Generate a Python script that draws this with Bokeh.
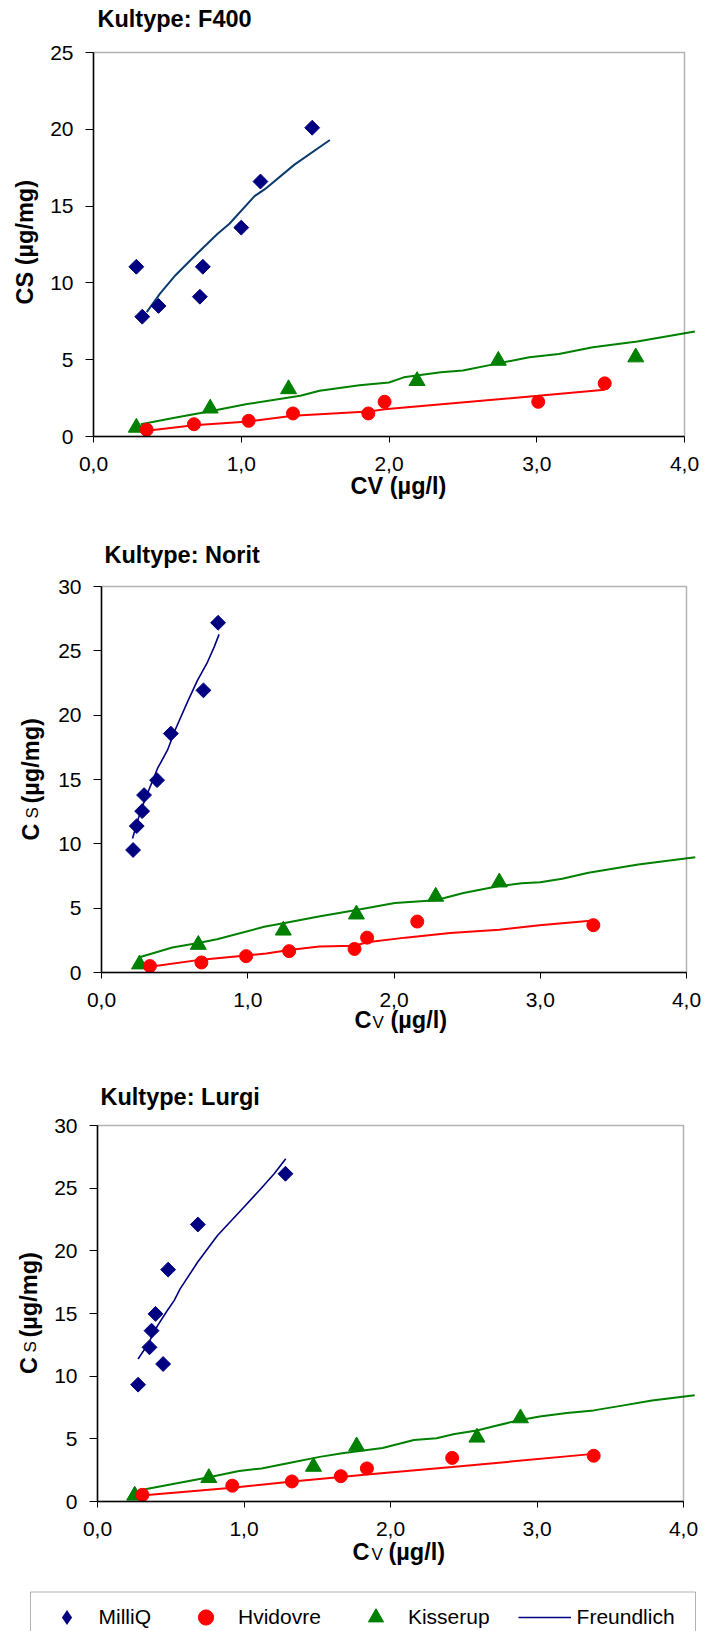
import math
from bokeh.plotting import figure
from bokeh.models import (Range1d, FixedTicker, CustomJSTickFormatter, Label,
                          Legend, LegendItem, BoxAnnotation)
from bokeh.layouts import column
from bokeh.embed import file_html
from bokeh.resources import INLINE

# ---------------- data ----------------
x_ticks = [0, 1, 2, 3, 4]
f400_y_ticks = [0, 5, 10, 15, 20, 25]
norit_y_ticks = [0, 5, 10, 15, 20, 25, 30]
lurgi_y_ticks = [0, 5, 10, 15, 20, 25, 30]

series_names = ["MilliQ", "Hvidovre", "Kisserup", "Freundlich"]
panel_titles = ["Kultype: F400", "Kultype: Norit", "Kultype: Lurgi"]

# F400
f400_milliq_cv = [0.29, 0.33, 0.44, 0.72, 0.74, 1.00, 1.13, 1.48]
f400_milliq_cs = [11.05, 7.8, 8.5, 9.1, 11.05, 13.6, 16.6, 20.1]
f400_milliq_fit_cv = [0.36, 0.45, 0.555, 0.70, 0.84, 0.92, 1.09, 1.16, 1.36, 1.60]
f400_milliq_fit_cs = [8.1, 9.3, 10.5, 11.9, 13.2, 13.85, 15.65, 16.1, 17.7, 19.3]
f400_hvid_cv = [0.36, 0.68, 1.05, 1.35, 1.86, 1.97, 3.01, 3.46]
f400_hvid_cs = [0.44, 0.80, 1.02, 1.50, 1.50, 2.26, 2.26, 3.46]
f400_hvid_fit_cv = [0.36, 0.68, 1.05, 1.35, 1.86, 1.97, 3.01, 3.46]
f400_hvid_fit_cs = [0.37, 0.74, 0.98, 1.35, 1.62, 1.78, 2.65, 3.05]
f400_kiss_cv = [0.29, 0.79, 1.32, 2.19, 2.74, 3.67]
f400_kiss_cs = [0.58, 1.83, 3.09, 3.62, 4.94, 5.16]
f400_kiss_fit_cv = [0.32, 0.54, 0.79, 1.04, 1.40, 1.53, 1.80, 2.00, 2.10, 2.35,
                    2.50, 2.74, 2.95, 3.15, 3.38, 3.68, 4.07]
f400_kiss_fit_cs = [0.80, 1.20, 1.65, 2.11, 2.65, 2.98, 3.33, 3.52, 3.85, 4.18,
                    4.30, 4.76, 5.16, 5.37, 5.81, 6.18, 6.83]

# Norit
norit_milliq_cv = [0.216, 0.241, 0.278, 0.291, 0.38, 0.474, 0.697, 0.797]
norit_milliq_cs = [9.52, 11.38, 12.54, 13.79, 14.95, 18.57, 21.93, 27.18]
norit_milliq_fit_cv = [0.212, 0.269, 0.325, 0.383, 0.451, 0.508, 0.588, 0.656, 0.725, 0.77, 0.804]
norit_milliq_fit_cs = [10.42, 12.62, 14.22, 15.86, 17.28, 18.96, 21.03, 22.71, 24.13, 25.29, 26.28]
norit_hvid_cv = [0.331, 0.683, 0.989, 1.283, 1.73, 1.816, 2.159, 3.363]
norit_hvid_cs = [0.50, 0.78, 1.27, 1.66, 1.83, 2.71, 3.96, 3.68]
norit_hvid_fit_cv = [0.331, 0.683, 0.989, 1.127, 1.283, 1.49, 1.73, 1.816, 2.077, 2.383, 2.72, 2.995, 3.363]
norit_hvid_fit_cs = [0.44, 1.0, 1.33, 1.47, 1.75, 2.02, 2.08, 2.35, 2.71, 3.07, 3.32, 3.68, 4.04]
norit_kiss_cv = [0.26, 0.662, 1.243, 1.743, 2.285, 2.72]
norit_kiss_cs = [0.64, 2.16, 3.27, 4.52, 5.90, 7.01]
norit_kiss_fit_cv = [0.26, 0.484, 0.662, 0.79, 1.112, 1.243, 1.495, 1.743, 2.006, 2.285,
                     2.475, 2.72, 2.873, 3.0, 3.15, 3.33, 3.67, 4.06]
norit_kiss_fit_cs = [1.19, 1.94, 2.30, 2.58, 3.55, 3.82, 4.38, 4.85, 5.40, 5.62,
                     6.18, 6.73, 6.93, 7.01, 7.29, 7.76, 8.39, 8.95]

# Lurgi
lurgi_milliq_cv = [0.277, 0.355, 0.369, 0.396, 0.448, 0.482, 0.685, 1.283]
lurgi_milliq_cs = [9.32, 12.3, 13.63, 14.97, 10.97, 18.5, 22.1, 26.15]
lurgi_milliq_fit_cv = [0.277, 0.345, 0.41, 0.473, 0.523, 0.564, 0.683, 0.819, 0.978, 1.115, 1.206, 1.285]
lurgi_milliq_fit_cs = [11.37, 12.57, 14.03, 15.18, 16.03, 16.96, 19.09, 21.22, 23.22, 24.95, 26.15, 27.35]
lurgi_hvid_cv = [0.307, 0.92, 1.327, 1.661, 1.839, 2.421, 3.387]
lurgi_hvid_cs = [0.53, 1.26, 1.60, 2.02, 2.64, 3.48, 3.65]
lurgi_hvid_fit_cv = [0.28, 0.92, 1.33, 1.66, 1.84, 2.42, 3.387]
lurgi_hvid_fit_cs = [0.45, 1.10, 1.60, 1.95, 2.15, 2.75, 3.80]
lurgi_kiss_cv = [0.254, 0.76, 1.474, 1.769, 2.59, 2.887]
lurgi_kiss_cs = [0.48, 1.88, 2.78, 4.41, 5.11, 6.65]
lurgi_kiss_fit_cv = [0.28, 0.76, 0.966, 1.119, 1.333, 1.517, 1.67, 1.946, 2.16, 2.314,
                     2.437, 2.59, 2.713, 2.887, 3.019, 3.203, 3.387, 3.571, 3.785, 4.076]
lurgi_kiss_fit_cs = [0.88, 1.94, 2.44, 2.64, 3.14, 3.56, 3.85, 4.27, 4.91, 5.05,
                     5.39, 5.67, 6.03, 6.51, 6.79, 7.07, 7.27, 7.63, 8.05, 8.48]

# ---------------- styling ----------------
FONT = "Liberation Sans"
NAVY = "#000080"
NAVY1 = "#0A3A6E"
RED = "#FF0000"
GREEN = "#008000"
BIG = "23.5px"
SUB = "17px"
TICK = "21px"
W = 704


class Geom:
    """Pixel placement of the data box inside a full-canvas frame."""
    def __init__(self, H, fl, fr, ft, fb, ymax):
        self.H, self.fl, self.fr, self.ft, self.fb, self.ymax = H, fl, fr, ft, fb, ymax
        self.sx = (fr - fl) / 4.0
        self.sy = (fb - ft) / ymax

    def xr(self):
        return Range1d(-self.fl / self.sx, 4.0 + (W - self.fr) / self.sx)

    def yr(self):
        return Range1d(-(self.H - self.fb) / self.sy, self.ymax + self.ft / self.sy)

    def to_data(self, px, py):
        return (px - self.fl) / self.sx, (self.fb - py) / self.sy


def make_panel(g, yticks):
    p = figure(width=W, height=g.H, x_range=g.xr(), y_range=g.yr(),
               output_backend="svg", toolbar_location=None, min_border=0)
    p.grid.visible = False
    p.outline_line_color = None
    p.background_fill_color = "white"
    p.border_fill_color = "white"

    p.xaxis.ticker = FixedTicker(ticks=x_ticks)
    p.xaxis.formatter = CustomJSTickFormatter(code="return tick.toFixed(1).replace('.', ',')")
    p.xaxis.fixed_location = 0
    p.xaxis.bounds = (0, 4)
    p.yaxis.ticker = FixedTicker(ticks=yticks)
    p.yaxis.formatter = CustomJSTickFormatter(code="return tick.toFixed(0)")
    p.yaxis.fixed_location = 0
    p.yaxis.bounds = (0, g.ymax)
    for ax in (p.xaxis[0], p.yaxis[0]):
        ax.axis_line_color = "black"
        ax.axis_line_width = 1.5
        ax.major_tick_line_color = "black"
        ax.major_tick_line_width = 1
        ax.major_tick_in = 0
        ax.minor_tick_in = 0
        ax.minor_tick_out = 0
        ax.major_label_text_font = FONT
        ax.major_label_text_font_size = TICK
        ax.major_label_text_color = "black"
    p.xaxis.major_tick_out = 6
    p.xaxis.major_label_standoff = 14
    p.yaxis.major_tick_out = 8
    p.yaxis.major_label_standoff = 12
    # the plot-area frame (top and right sides)
    p.add_layout(BoxAnnotation(left=0, right=4, bottom=0, top=g.ymax,
                               fill_alpha=0, line_color="black", line_width=1.5))
    return p


def add_text(p, g, px, py, text, size=BIG, bold=True, angle=0.0,
             align="left", baseline="alphabetic"):
    x, y = g.to_data(px, py)
    p.add_layout(Label(x=x, y=y, text=text, angle=angle, angle_units="rad",
                       text_align=align, text_baseline=baseline,
                       text_font=FONT, text_font_size=size,
                       text_font_style="bold" if bold else "normal",
                       text_color="black"))


def draw_series(p, mq, hv, ks, navy_color, navy_width):
    (mcv, mcs, mfcv, mfcs) = mq
    (hcv, hcs, hfcv, hfcs) = hv
    (kcv, kcs, kfcv, kfcs) = ks
    p.line(kfcv, kfcs, color=GREEN, line_width=2)
    p.line(hfcv, hfcs, color=RED, line_width=2)
    lm = p.line(mfcv, mfcs, color=navy_color, line_width=navy_width)
    p.scatter(mcv, mcs, marker="square", angle=math.pi / 4, size=10.5, color=NAVY)
    sk = p.scatter(kcv, kcs, marker="triangle", size=16, color=GREEN)
    sh = p.scatter(hcv, hcs, marker="circle", size=13, color=RED)
    # legend-only stand-in for the diamond (zero size in the plot itself)
    sm = p.scatter(mcv, mcs, marker="diamond", size=0, fill_color=NAVY, line_color=NAVY, line_alpha=0)
    return sm, sh, sk, lm


# ---------------- panel 1: F400 ----------------
g1 = Geom(520, 93, 684, 52, 436, 25)
p1 = make_panel(g1, f400_y_ticks)
draw_series(p1,
            (f400_milliq_cv, f400_milliq_cs, f400_milliq_fit_cv, f400_milliq_fit_cs),
            (f400_hvid_cv, f400_hvid_cs, f400_hvid_fit_cv, f400_hvid_fit_cs),
            (f400_kiss_cv, f400_kiss_cs, f400_kiss_fit_cv, f400_kiss_fit_cs),
            NAVY1, 2)
add_text(p1, g1, 97, 18.5, panel_titles[0])
add_text(p1, g1, 398, 485, "CV (µg/l)", align="center")
add_text(p1, g1, 24.5, 241.7, "CS (µg/mg)", angle=math.pi / 2, align="center")

# ---------------- panel 2: Norit (page offset 520) ----------------
o2 = 520
g2 = Geom(540, 101, 686, 586 - o2, 972 - o2, 30)
p2 = make_panel(g2, norit_y_ticks)
draw_series(p2,
            (norit_milliq_cv, norit_milliq_cs, norit_milliq_fit_cv, norit_milliq_fit_cs),
            (norit_hvid_cv, norit_hvid_cs, norit_hvid_fit_cv, norit_hvid_fit_cs),
            (norit_kiss_cv, norit_kiss_cs, norit_kiss_fit_cv, norit_kiss_fit_cs),
            NAVY, 1.6)
add_text(p2, g2, 104, 554.6 - o2, panel_titles[1])
add_text(p2, g2, 354, 1019 - o2, "C")
add_text(p2, g2, 372, 1022 - o2, "V", size=SUB, bold=False)
add_text(p2, g2, 390, 1019 - o2, "(µg/l)")
add_text(p2, g2, 30, 840 - o2, "C", angle=math.pi / 2)
add_text(p2, g2, 32, 818 - o2, "S", size=SUB, bold=False, angle=math.pi / 2)
add_text(p2, g2, 30, 803 - o2, "(µg/mg)", angle=math.pi / 2)

# ---------------- panel 3: Lurgi + legend (page offset 1060) ----------------
o3 = 1060
g3 = Geom(571, 97, 683, 1125 - o3, 1501 - o3, 30)
p3 = make_panel(g3, lurgi_y_ticks)
sm, sh, sk, lm = draw_series(p3,
            (lurgi_milliq_cv, lurgi_milliq_cs, lurgi_milliq_fit_cv, lurgi_milliq_fit_cs),
            (lurgi_hvid_cv, lurgi_hvid_cs, lurgi_hvid_fit_cv, lurgi_hvid_fit_cs),
            (lurgi_kiss_cv, lurgi_kiss_cs, lurgi_kiss_fit_cv, lurgi_kiss_fit_cs),
            NAVY, 1.6)
add_text(p3, g3, 100, 1096 - o3, panel_titles[2])
add_text(p3, g3, 352, 1551 - o3, "C")
add_text(p3, g3, 371, 1554 - o3, "V", size=SUB, bold=False)
add_text(p3, g3, 388, 1551 - o3, "(µg/l)")
add_text(p3, g3, 28, 1373.5 - o3, "C", angle=math.pi / 2)
add_text(p3, g3, 30, 1352 - o3, "S", size=SUB, bold=False, angle=math.pi / 2)
add_text(p3, g3, 28, 1337 - o3, "(µg/mg)", angle=math.pi / 2)

# legend frame (its lower edge falls below the page, as in the original)
bl, bt = g3.to_data(30, 1591.5 - o3)
br, bb = g3.to_data(695, 1645 - o3)
p3.add_layout(BoxAnnotation(left=bl, right=br, top=bt, bottom=bb,
                            fill_color="white", fill_alpha=1.0,
                            line_color="black", line_width=1, level="annotation"))

legend = Legend(items=[LegendItem(label=series_names[0], renderers=[sm]),
                       LegendItem(label=series_names[1], renderers=[sh]),
                       LegendItem(label=series_names[2], renderers=[sk]),
                       LegendItem(label=series_names[3], renderers=[lm])],
                location=(39.5, -5), orientation="horizontal",
                glyph_width=53, glyph_height=38, label_standoff=6, spacing=28,
                padding=3, margin=0,
                label_text_font=FONT, label_text_font_size="21px", label_text_color="black",
                border_line_color=None,
                background_fill_alpha=0.0)
p3.add_layout(legend)

layout = column(p1, p2, p3, spacing=0)

with open("out.html", "w") as f:
    f.write(file_html(layout, INLINE))
